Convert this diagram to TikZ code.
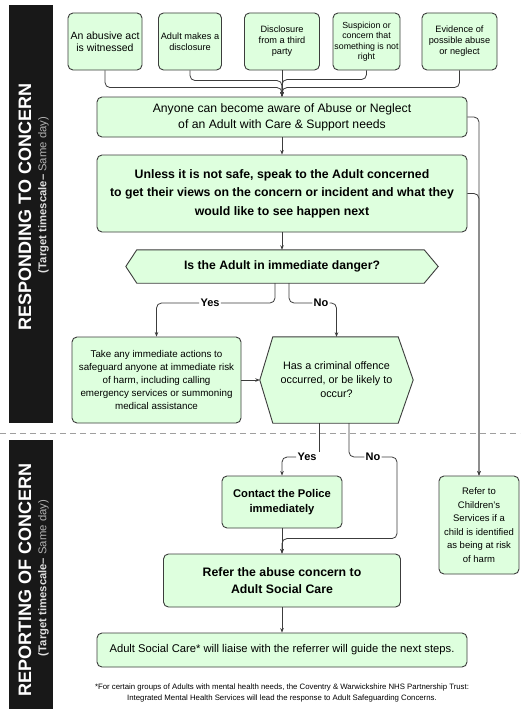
\documentclass[tikz,border=0pt]{standalone}
\usepackage{fontspec}
\setmainfont{Liberation Sans}
\usetikzlibrary{calc,arrows.meta,backgrounds}
\definecolor{boxfill}{RGB}{222,255,222}
\definecolor{boxline}{RGB}{60,60,60}
\definecolor{barblack}{RGB}{24,24,24}
\begin{document}
\begin{tikzpicture}[x=1pt,y=-1pt,
 box/.style={draw=boxline, fill=boxfill, rounded corners=5pt, line width=0.9pt, align=center, inner sep=1pt, text=black},
 topbox/.style={box, minimum height=57, font=\fontsize{9.2}{11}\selectfont},
 hexnode/.style={align=center, inner sep=1pt},
 hexdraw/.style={draw=boxline, fill=boxfill, line width=0.9pt},
 conn/.style={draw=boxline, line width=0.8pt, rounded corners=5pt},
 arr/.style={conn, -{Stealth[length=4.5pt,width=3.5pt]}},
 lab/.style={fill=white, inner sep=1.2pt, font=\fontsize{11}{12}\selectfont\bfseries},
 bar/.style={fill=barblack, draw=none},
 bartitle/.style={rotate=90, text=white, font=\fontsize{18}{20}\selectfont\bfseries},
 barsub/.style={rotate=90, font=\fontsize{11.3}{13}\selectfont},
]
\useasboundingbox (0,0) rectangle (520,709);
\begin{scope}[on background layer]
\fill[white] (0,0) rectangle (520,709);
\end{scope}

% side bars
\fill[bar] (9,5) rectangle (53,423);
\fill[bar] (9,440) rectangle (53,709);
\node[bartitle] (t1) at (25,207) {RESPONDING TO CONCERN};
\node[barsub] (s1) at (43.5,195) {\textcolor{gray!25}{\bfseries (Target timescale–} \textcolor{gray!60}{Same day)}};
\node[bartitle] (t2) at (25,580) {REPORTING OF CONCERN};
\node[barsub] (s2) at (43.5,578) {\textcolor{gray!25}{\bfseries (Target timescale–} \textcolor{gray!60}{Same day)}};

% dashed separator
\draw[gray!75, line width=0.8pt, dash pattern=on 6pt off 4pt] (0,433) -- (520,433);

% top row
\node[topbox, minimum width=74, font=\fontsize{10.5}{12.5}\selectfont] (b1) at (105,41.5) {An abusive act\\is witnessed};
\node[topbox, minimum width=63] (b2) at (190,41.5) {Adult makes a\\disclosure};
\node[topbox, minimum width=75] (b3) at (282,41.5) {Disclosure\\from a third\\party};
\node[topbox, minimum width=67, font=\fontsize{8.8}{10.5}\selectfont] (b4) at (366.5,41.5) {Suspicion or\\concern that\\something is not\\right};
\node[topbox, minimum width=75] (b5) at (459.5,41.5) {Evidence of\\possible abuse\\or neglect};

\node[box, minimum width=370, minimum height=40, font=\fontsize{12.2}{16}\selectfont] (any) at (282,117)
 {Anyone can become aware of Abuse or Neglect\\of an Adult with Care \& Support needs};
\node[box, minimum width=370, minimum height=77, font=\fontsize{12.3}{18.5}\selectfont\bfseries] (unl) at (282,193.5)
 {Unless it is not safe, speak to the Adult concerned\\to get their views on the concern or incident and what they\\would like to see happen next};

\node[hexnode, minimum width=312, minimum height=33, font=\fontsize{12.2}{14}\selectfont\bfseries] (hx1) at (282,266.5) {Is the Adult in immediate danger?};
\begin{scope}[on background layer]
\draw[hexdraw] (hx1.west) -- ([xshift=11]hx1.north west) -- ([xshift=-14]hx1.north east) -- (hx1.east)
  -- ([xshift=-14]hx1.south east) -- ([xshift=11]hx1.south west) -- cycle;
\end{scope}

\node[box, minimum width=169, minimum height=86, font=\fontsize{9.8}{13}\selectfont] (take) at (156.5,380)
 {Take any immediate actions to\\safeguard anyone at immediate risk\\of harm, including calling\\emergency services or summoning\\medical assistance};

\node[hexnode, minimum width=153, minimum height=86, font=\fontsize{10.8}{14}\selectfont] (hx2) at (336.5,380)
 {Has a criminal offence\\occurred, or be likely to\\occur?};
\begin{scope}[on background layer]
\draw[hexdraw] (hx2.west) -- ([xshift=13]hx2.north west) -- ([xshift=-15]hx2.north east) -- (hx2.east)
  -- ([xshift=-15]hx2.south east) -- ([xshift=13]hx2.south west) -- cycle;
\end{scope}

\node[box, minimum width=120, minimum height=52, font=\fontsize{11.2}{15}\selectfont\bfseries] (pol) at (282,502)
 {Contact the Police\\immediately};
\node[box, minimum width=237, minimum height=53, font=\fontsize{12.3}{17}\selectfont\bfseries] (ref) at (282,580.5)
 {Refer the abuse concern to\\Adult Social Care};
\node[box, minimum width=370, minimum height=34, font=\fontsize{11.2}{13}\selectfont] (fin) at (282,650)
 {Adult Social Care* will liaise with the referrer will guide the next steps.};
\node[box, minimum width=80, minimum height=98, font=\fontsize{9.5}{13.5}\selectfont] (chi) at (479,525)
 {Refer to\\Children's\\Services if a\\child is identified\\as being at risk\\of harm};

\node[align=center, font=\fontsize{7.8}{10.5}\selectfont] (foot) at (282,693)
 {*For certain groups of Adults with mental health needs, the Coventry \& Warwickshire NHS Partnership Trust:\\Integrated Mental Health Services will lead the response to Adult Safeguarding Concerns.};

% labels
\node[lab] (yes1) at (210,303) {Yes};
\node[lab] (no1) at (321,303) {No};
\node[lab] (yes2) at (307,457) {Yes};
\node[lab] (no2) at (373,457) {No};

% connectors top
\draw[arr] (b3.south) -- (any.north);
\draw[arr] (b1.south) |- ($(any.north)+(0,-9)$) -- (any.north);
\draw[arr] (b2.south) |- ($(any.north)+(0,-16)$) -- (any.north);
\draw[arr] (b4.south) |- ($(any.north)+(0,-17)$) -- (any.north);
\draw[arr] (b5.south) |- ($(any.north)+(0,-9)$) -- (any.north);

\draw[arr] (any.south) -- (unl.north);
\draw[arr] (unl.south) -- (hx1.north);

% right line to children
\draw[arr] (any.east) -| (chi.north);
\draw[arr] (unl.east) -| (chi.north);

% first decision
\draw[conn] ([xshift=-7]hx1.south) |- (yes1.east);
\draw[arr] (yes1.west) -| (take.north);
\draw[conn] ([xshift=7]hx1.south) |- (no1.west);
\draw[arr] (no1.east) -| (hx2.north);
\draw[arr] (take.east) -- (hx2.west);

% second decision
\coordinate (h2y) at ([xshift=-17.5]hx2.south);
\draw[conn] (h2y) -- (h2y |- yes2.north);
\draw[arr] (yes2.west) -| (pol.north);
\draw[conn] ([xshift=12.5]hx2.south) |- (no2.west);
\draw[arr] (no2.east) -| ($(ref.north)+(115,-15)$) -| (ref.north);
\draw[arr] (pol.south) -- (ref.north);
\draw[arr] (ref.south) -- (fin.north);
\end{tikzpicture}
\end{document}
